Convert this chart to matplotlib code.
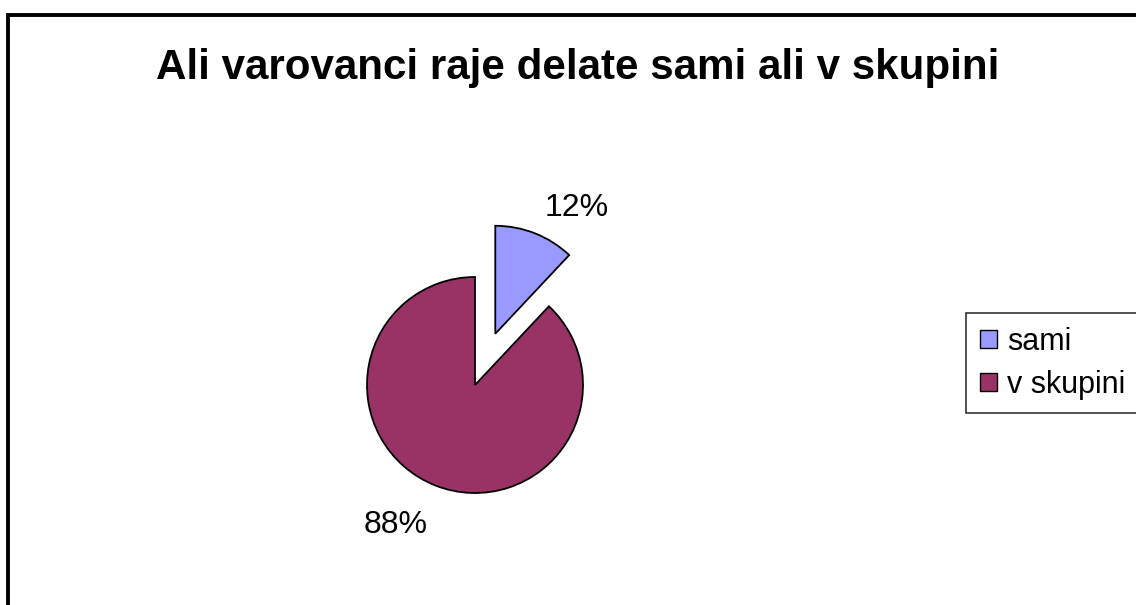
import matplotlib
matplotlib.use('Agg')
import matplotlib.pyplot as plt
from matplotlib.patches import Rectangle, Patch

plt.rcParams['font.family'] = ['Liberation Sans', 'DejaVu Sans']

# data
labels = ['sami', 'v skupini']
values = [12, 88]
colors = ['#9999FF', '#993366']
title = 'Ali varovanci raje delate sami ali v skupini'

W, H = 1136, 605
fig = plt.figure(figsize=(W / 100, H / 100), dpi=100)
ax = fig.add_axes([0, 0, 1, 1])
ax.set_xlim(0, W)
ax.set_ylim(0, H)
ax.set_aspect('equal')
ax.axis('off')

# outer chart border (right/bottom run off the image)
fig.patches.append(Rectangle((8 / W, -0.05), 1.2, 1 - 15 / H + 0.05,
                             transform=fig.transFigure, fill=False,
                             edgecolor='black', linewidth=2.8))

# pie
cx, cy, r = 475, H - 385, 108
wedges, _ = ax.pie(values, colors=colors, startangle=90, counterclock=False,
                   explode=[0.51 * r, 0], center=(cx, cy), radius=r,
                   wedgeprops=dict(edgecolor='black', linewidth=1.3))
ax.set_xlim(0, W)
ax.set_ylim(0, H)

# percentage labels
label_pos = [(577, H - 208), (396, H - 525)]
for v, (x, y) in zip(values, label_pos):
    ax.text(x, y, f'{v}%', fontsize=23, ha='center', va='center')

fig.text(578 / W, 1 - 68 / H, title, fontsize=30.3, fontweight='bold',
         ha='center', va='center')

# legend box runs past the right edge of the image
handles = [Patch(facecolor=c, edgecolor='black', linewidth=1.0) for c in colors]
leg = fig.legend(handles, labels, loc='upper left', mode='expand',
                 bbox_to_anchor=(966 / W, 1 - 313 / H, 200 / W, 0),
                 fontsize=22, frameon=True, fancybox=False,
                 handlelength=0.55, handleheight=0.55, handletextpad=0.35,
                 borderpad=0.45, labelspacing=0.42, borderaxespad=0)
leg.get_frame().set_edgecolor('black')
leg.get_frame().set_linewidth(1.2)

fig.savefig('out.png', dpi=100)
